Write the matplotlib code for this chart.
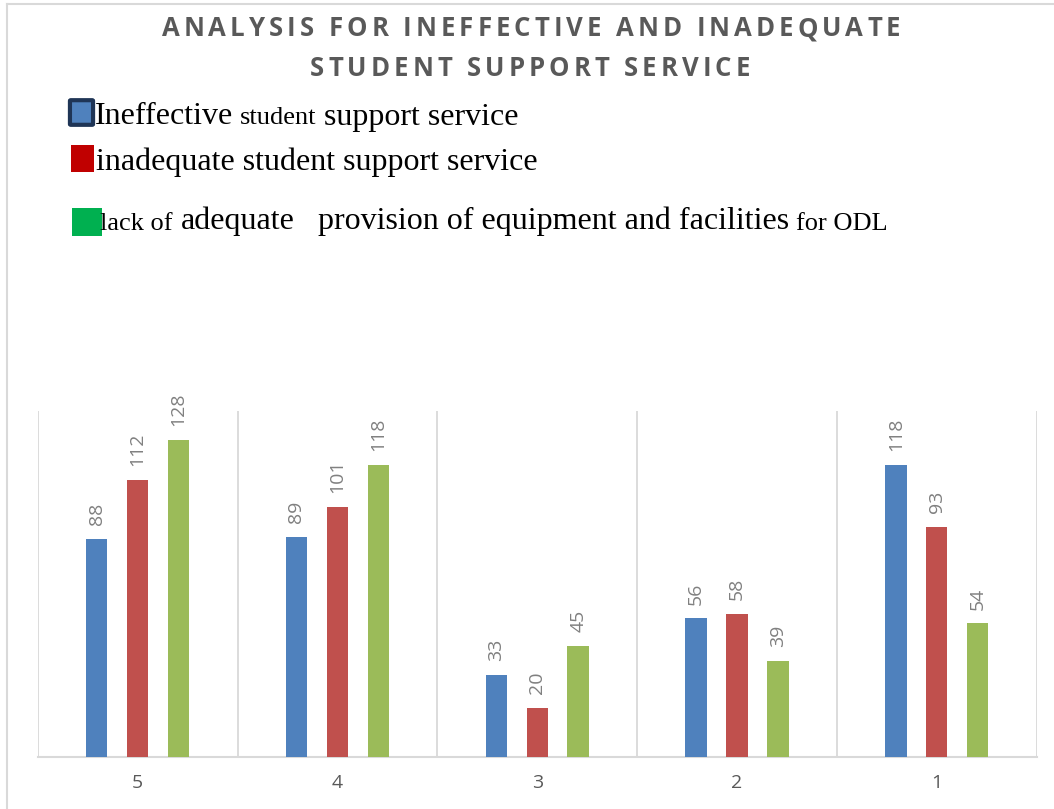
import matplotlib
matplotlib.use("Agg")
import matplotlib.pyplot as plt
import numpy as np
from matplotlib.patches import FancyBboxPatch, Rectangle
from matplotlib.lines import Line2D

# data
categories = ["5", "4", "3", "2", "1"]
ineffective = [88, 89, 33, 56, 118]
inadequate = [112, 101, 20, 58, 93]
lack_provision = [128, 118, 45, 39, 54]

series_colors = ["#4F81BD", "#C0504D", "#9BBB59"]
W, H = 1054, 809

fig = plt.figure(figsize=(W / 100, H / 100), dpi=100)
renderer = fig.canvas.get_renderer()


def px(x, y):
    # pixel position (from top-left) to figure fraction
    return x / W, 1 - y / H


def spaced_title(xc, yc, s, size, tracking):
    # bold caps with extra letter spacing, centred on xc
    kw = dict(fontsize=size, fontweight="bold", family="Open Sans", color="#595959",
              va="center", ha="left")
    widths = []
    for ch in s:
        if ch == " ":
            widths.append(size * 0.26 * 100 / 72)
            continue
        t = fig.text(0, 0, ch, **kw)
        widths.append(t.get_window_extent(renderer).width)
        t.remove()
    total = sum(widths) + tracking * (len(s) - 1)
    x = xc - total / 2
    for ch, w in zip(s, widths):
        if ch != " ":
            fig.text(*px(x, yc), ch, **kw)
        x += w + tracking


def text_run(x, y, parts):
    # serif legend text where words change size mid-line
    for s, size in parts:
        lead = len(s) - len(s.lstrip(" "))
        x += lead * size * 0.25 * 100 / 72
        t = fig.text(*px(x, y), s.strip(), fontsize=size, family="Liberation Serif",
                     color="black", va="baseline", ha="left")
        x += t.get_window_extent(renderer).width


# frame lines at the top and left
fig.add_artist(Line2D([7 / W, 7 / W], [0, 1 - 4 / H], color="#D9D9D9", lw=1.5))
fig.add_artist(Line2D([7 / W, 1], [1 - 4 / H, 1 - 4 / H], color="#D9D9D9", lw=1.5))

spaced_title(531, 29, "ANALYSIS FOR INEFFECTIVE AND INADEQUATE", 18.5, 4.0)
spaced_title(530, 68, "STUDENT SUPPORT SERVICE", 18.5, 4.0)

# legend swatches
fig.add_artist(FancyBboxPatch(px(71, 124)[0:2], 21 / W, 23 / H,
                              boxstyle="round,pad=0.001", transform=fig.transFigure,
                              facecolor="#4F81BD", edgecolor="#1F3556", lw=3))
fig.add_artist(Rectangle(px(71, 172), 23 / W, 27 / H, transform=fig.transFigure,
                         facecolor="#C00000", edgecolor="none"))
fig.add_artist(Rectangle(px(72, 236), 30 / W, 28 / H, transform=fig.transFigure,
                         facecolor="#00B050", edgecolor="none"))

L, S = 23, 19
text_run(95, 124.5, [("Ineffective", L), (" student", S), (" support service", L)])
text_run(96, 170, [("inadequate student support service", L)])
text_run(100, 229.5, [("lack of", S), (" adequate", L),
                      ("   provision of equipment and facilities", L), (" for ODL", S)])

# bar chart
ax = fig.add_axes([37.7 / W, 1 - 757 / H, 999 / W, 346.3 / H])
x = np.arange(len(categories))
offset, width = 0.205, 0.107
for i, (vals, c) in enumerate(zip([ineffective, inadequate, lack_provision], series_colors)):
    bars = ax.bar(x + (i - 1) * offset, vals, width, color=c, zorder=3)
    for b, v in zip(bars, vals):
        ax.annotate(str(v), (b.get_x() + b.get_width() / 2, v), xytext=(0, 10),
                    textcoords="offset points", rotation=90, ha="center", va="bottom",
                    fontsize=14, family="Open Sans", color="#808080")

ax.set_xlim(-0.5, len(categories) - 0.5)
ax.set_ylim(0, 140)
ax.set_xticks(x)
ax.set_xticklabels(categories, fontsize=14, family="Open Sans", color="#595959")
ax.set_xticks(np.arange(-0.5, len(categories)), minor=True)
ax.tick_params(axis="x", which="both", length=0, pad=12)
ax.set_yticks([])
ax.grid(axis="x", which="minor", color="#D9D9D9", lw=1.3, zorder=0)
for side in ["top", "left", "right"]:
    ax.spines[side].set_visible(False)
ax.spines["bottom"].set_color("#D9D9D9")
ax.spines["bottom"].set_linewidth(1.5)

fig.savefig("out.png", dpi=100)
